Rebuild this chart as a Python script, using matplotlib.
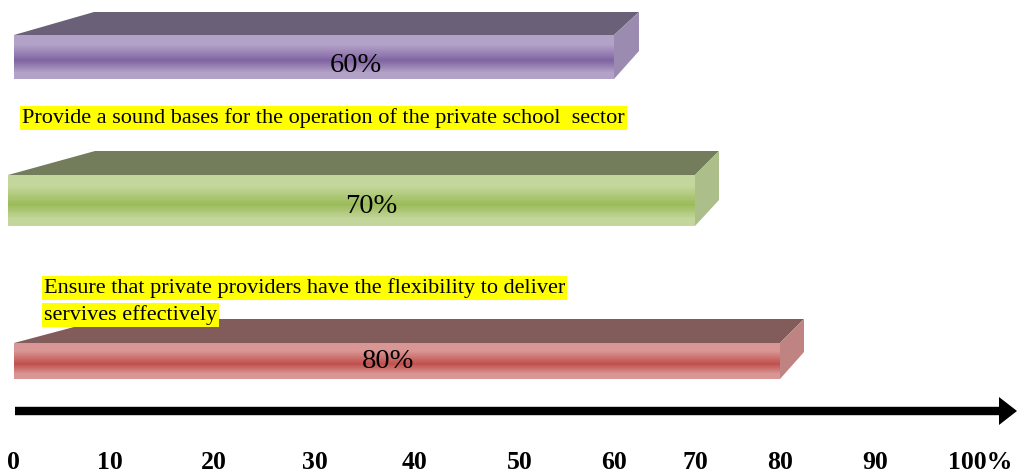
import numpy as np
import matplotlib.pyplot as plt
from matplotlib.colors import LinearSegmentedColormap
from matplotlib.patches import Polygon

plt.rcParams['font.family'] = ['Liberation Serif', 'DejaVu Serif']

# values shown on the bars
bar_values = [60, 70, 80]
bar_labels = ['60%', '70%', '80%']

# scale along the arrow
tick_values = [0, 10, 20, 30, 40, 50, 60, 70, 80, 90, 100]
tick_labels = ['0', '10', '20', '30', '40', '50', '60', '70', '80', '90', '100%']

note_one = 'Provide a sound bases for the operation of the private school  sector'
note_two = ['Ensure that private providers have the flexibility to deliver',
            'servives effectively']

# light, dark, top face, side face
bar_colors = [
    ('#b3a2c7', '#8064a2', '#6a6178', '#9c8bb0'),
    ('#c3d69b', '#9bbb59', '#737d5c', '#acbe8a'),
    ('#d99694', '#c0504d', '#825c5a', '#bf8381'),
]

# ---- layout (pixels) ----
W, H = 1018, 476
tick_px = [13, 110, 214, 315, 415, 520, 614, 695, 780, 875, 980]
front_left = [14, 8, 14]
front_top = [35, 175, 343]
front_h = [44, 51, 36]
back_h = [39, 49, 33]
depth = [23, 24, 24]
side_shift = [25, 24, 24]
back_left = [94, 95, 104]
label_px = [356, 371, 388]
label_base = [72, 213, 368]

# the ruler is not evenly spaced, so map values onto it piecewise
ext_vals = [-50] + tick_values + [150]
ext_px = [tick_px[0] - 50 * 9.7] + tick_px + [tick_px[-1] + 50 * 10.5]


def to_px(v):
    return np.interp(v, ext_vals, ext_px)


def from_px(p):
    return np.interp(p, ext_px, ext_vals)


fig = plt.figure(figsize=(W / 100, H / 100), dpi=100)
ax = fig.add_axes([0, 0, 1, 1])
ax.set_xscale('function', functions=(to_px, from_px))
ax.set_xlim(from_px(0), from_px(W))
ax.set_ylim(H, 0)
ax.axis('off')

n_strips = 60
for i, val in enumerate(bar_values):
    light, dark, top_c, side_c = bar_colors[i]
    cmap = LinearSegmentedColormap.from_list(
        'g%d' % i, [(0, light), (0.22, light), (0.58, dark), (0.86, light), (1, light)])
    x0 = from_px(front_left[i])
    y0 = front_top[i]
    h = front_h[i]
    dh = h / n_strips
    ys = y0 + dh * (np.arange(n_strips) + 0.5)
    ax.barh(ys, [val - x0] * n_strips, left=x0, height=dh * 1.02,
            color=cmap((ys - y0) / h), edgecolor='none')

    # top face
    xr = from_px(to_px(val) + side_shift[i])
    xl = from_px(back_left[i])
    ax.add_patch(Polygon([(x0, y0), (val, y0), (xr, y0 - depth[i]), (xl, y0 - depth[i])],
                         closed=True, facecolor=top_c, edgecolor='none'))
    # side face
    ax.add_patch(Polygon([(val, y0), (xr, y0 - depth[i]),
                          (xr, y0 - depth[i] + back_h[i]), (val, y0 + h)],
                         closed=True, facecolor=side_c, edgecolor='none'))

    ax.text(from_px(label_px[i]), label_base[i], bar_labels[i], fontsize=20.5,
            ha='center', va='baseline', color='black')

hl = dict(facecolor='#ffff00', edgecolor='none', pad=1.5)
ax.text(from_px(22), 123, note_one, fontsize=16, ha='left', va='baseline', bbox=hl)
ax.text(from_px(44), 293, note_two[0], fontsize=16, ha='left', va='baseline', bbox=hl)
ax.text(from_px(44), 320, note_two[1], fontsize=16, ha='left', va='baseline', bbox=hl)

# arrow along the bottom
ax.annotate('', xy=(from_px(1017), 411), xytext=(from_px(15), 411),
            arrowprops=dict(arrowstyle='simple,head_length=0.9,head_width=1.4,tail_width=0.42',
                            mutation_scale=14.4, fc='black', ec='none', lw=0,
                            shrinkA=0, shrinkB=0))

for v, lab in zip(tick_values, tick_labels):
    ax.text(v, 469, lab, fontsize=18.5, fontweight='bold', ha='center', va='baseline')

fig.savefig('out.png', dpi=100)
